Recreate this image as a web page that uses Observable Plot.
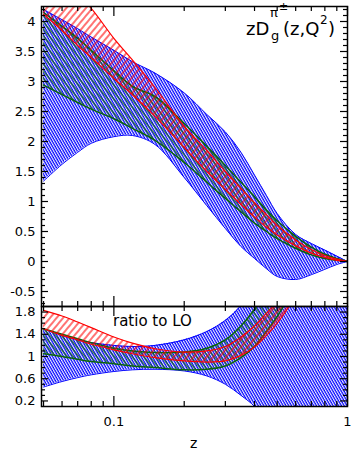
<!DOCTYPE html>
<html><head><meta charset="utf-8">
<script src="https://cdn.jsdelivr.net/npm/d3@7"></script>
<script src="https://cdn.jsdelivr.net/npm/@observablehq/plot@0.6"></script>
<style>
body{margin:0;background:#fff;font-family:"DejaVu Sans",sans-serif;}
#wrap{position:relative;width:352px;height:450px;overflow:hidden;}
#wrap svg{display:block;}
.t{position:absolute;line-height:1;white-space:nowrap;color:#000;}
</style></head><body>
<div id="wrap">
  <div id="topc"></div><div id="botc"></div>
  <span class="t" style="left:246px;top:20px;font-size:18px">zD</span>
  <span class="t" style="left:270px;top:6px;font-size:13px">π</span>
  <span class="t" style="left:279px;top:1px;font-size:11px">±</span>
  <span class="t" style="left:271px;top:29px;font-size:13px">g</span>
  <span class="t" style="left:283px;top:20px;font-size:18px">(z,Q</span>
  <span class="t" style="left:320px;top:14px;font-size:12px">2</span>
  <span class="t" style="left:328px;top:20px;font-size:18px">)</span>
  <span class="t" style="left:113px;top:314px;font-size:15px">ratio to LO</span>
  <span class="t" style="left:190px;top:436px;font-size:14px">z</span>
</div>
<script>
// ---- data ----
const z = [0.05,0.06,0.07,0.08,0.1,0.12,0.15,0.2,0.25,0.3,0.35,0.4,0.45,0.5,0.6,0.7,0.8,0.9,1.0];
// top panel: zD_g(z,Q^2)
const blueUpper  = [4.2,4.03,3.88,3.74,3.52,3.33,3.14,2.81,2.45,2.16,1.82,1.44,1.1,0.8,0.45,0.3,0.19,0.09,0];
const blueLower  = [1.34,1.62,1.82,1.97,2.08,2.1,1.95,1.4,0.93,0.55,0.25,0.05,-0.12,-0.25,-0.3,-0.22,-0.13,-0.05,0];
const greenUpper = [4.15,3.92,3.72,3.52,3.18,2.92,2.75,2.3,1.92,1.6,1.32,1.08,0.86,0.68,0.42,0.24,0.12,0.05,0];
const greenLower = [2.94,2.78,2.65,2.54,2.38,2.22,2.02,1.65,1.32,1.05,0.83,0.64,0.5,0.38,0.22,0.11,0.05,0.02,0];
const redUpper   = [5.05,4.75,4.45,4.22,3.72,3.36,2.9,2.25,1.85,1.5,1.22,0.98,0.78,0.6,0.36,0.2,0.1,0.04,0];
const redLower   = [4.12,3.85,3.6,3.4,3.05,2.78,2.42,1.9,1.5,1.2,0.95,0.74,0.57,0.44,0.26,0.14,0.07,0.02,0];
// bottom panel: ratio to LO
const rBlueUpper  = [1.5,1.38,1.3,1.25,1.2,1.18,1.2,1.3,1.45,1.65,1.92,2.3,2.8,3.5,5,5,5,5,5];
const rBlueLower  = [0.45,0.55,0.62,0.67,0.73,0.76,0.77,0.74,0.65,0.5,0.3,0.1,-0.2,-0.6,-2,-2,-2,-2,-2];
const rGreenUpper = [1.5,1.4,1.32,1.25,1.15,1.1,1.07,1.08,1.15,1.3,1.55,1.85,2.2,2.6,3.5,4,4,4,4];
const rGreenLower = [1.05,1.0,0.95,0.91,0.87,0.83,0.8,0.76,0.77,0.83,0.98,1.18,1.45,1.72,2.3,3,3,3,3];
const rRedUpper   = [1.83,1.73,1.62,1.52,1.35,1.24,1.14,1.08,1.1,1.18,1.35,1.55,1.78,2.0,2.6,3.2,3.2,3.2,3.2];
const rRedLower   = [1.5,1.38,1.3,1.22,1.12,1.05,0.98,0.92,0.9,0.92,1.02,1.17,1.38,1.6,2.1,2.8,2.8,2.8,2.8];
// ticks
const xMajor = [0.1, 1];
const xMinor = [0.05,0.06,0.07,0.08,0.09,0.2,0.3,0.4,0.5,0.6,0.7,0.8,0.9];
const yTopMajor = [-0.5,0,0.5,1,1.5,2,2.5,3,3.5,4];
const yTopMinor = [-0.7,-0.6,-0.4,-0.3,-0.2,-0.1,0.1,0.2,0.3,0.4,0.6,0.7,0.8,0.9,1.1,1.2,1.3,1.4,1.6,1.7,1.8,1.9,
  2.1,2.2,2.3,2.4,2.6,2.7,2.8,2.9,3.1,3.2,3.3,3.4,3.6,3.7,3.8,3.9,4.1,4.2];
const yBotMajor = [0.2,0.6,1,1.4,1.8];
const yBotMinor = [0.3,0.4,0.5,0.7,0.8,0.9,1.1,1.2,1.3,1.5,1.6,1.7];

const topRows = z.map((v,i)=>({z:v,bU:blueUpper[i],bL:blueLower[i],gU:greenUpper[i],gL:greenLower[i],rU:redUpper[i],rL:redLower[i]}));
const botRows = z.map((v,i)=>({z:v,bU:rBlueUpper[i],bL:rBlueLower[i],gU:rGreenUpper[i],gL:rGreenLower[i],rU:rRedUpper[i],rL:rRedLower[i]}));

const BLUE="#0000ff", GREEN="#0a640a", RED="#ff0000";
const curve="catmull-rom";
function bands(rows){
  return [
    Plot.areaY(rows,{x:"z",y1:"bL",y2:"bU",fill:"url(#hBlue)",curve,clip:true}),
    Plot.line(rows,{x:"z",y:"bU",stroke:BLUE,strokeWidth:1,curve,clip:true}),
    Plot.line(rows,{x:"z",y:"bL",stroke:BLUE,strokeWidth:1,curve,clip:true}),
    Plot.areaY(rows,{x:"z",y1:"gL",y2:"gU",fill:"url(#hGreen)",curve,clip:true}),
    Plot.line(rows,{x:"z",y:"gU",stroke:GREEN,strokeWidth:1.5,curve,clip:true}),
    Plot.line(rows,{x:"z",y:"gL",stroke:GREEN,strokeWidth:1.5,curve,clip:true}),
    Plot.areaY(rows,{x:"z",y1:"rL",y2:"rU",fill:"url(#hRed)",curve,clip:true}),
    Plot.line(rows,{x:"z",y:"rU",stroke:RED,strokeWidth:1.2,curve,clip:true}),
    Plot.line(rows,{x:"z",y:"rL",stroke:RED,strokeWidth:1.2,curve,clip:true})
  ];
}
// inward-pointing ticks on all four sides, drawn as tick marks inset from the frame
const FW=306; // frame width in px
function frameTicks(yMajor,yMinor,FH){
  const s={stroke:"#000",strokeWidth:1.2};
  return [
    Plot.frame({stroke:"black",strokeWidth:1.5}),
    Plot.tickY(yMajor,{y:d=>d,insetRight:FW-7,...s}),
    Plot.tickY(yMinor,{y:d=>d,insetRight:FW-4,...s}),
    Plot.tickY(yMajor,{y:d=>d,insetLeft:FW-7,...s}),
    Plot.tickY(yMinor,{y:d=>d,insetLeft:FW-4,...s}),
    Plot.tickX(xMajor,{x:d=>d,insetBottom:FH-10,...s}),
    Plot.tickX(xMinor,{x:d=>d,insetBottom:FH-5,...s}),
    Plot.tickX(xMajor,{x:d=>d,insetTop:FH-10,...s}),
    Plot.tickX(xMinor,{x:d=>d,insetTop:FH-5,...s})
  ];
}
const style={fontFamily:"DejaVu Sans",fontSize:"13px",color:"black",background:"transparent",overflow:"visible"};
const xScale={type:"log",domain:[0.049,1]};

const topPlot = Plot.plot({
  width:352,height:306,marginTop:6,marginBottom:0,marginLeft:41,marginRight:5,
  x:xScale, y:{domain:[-0.75,4.25]}, style,
  marks:[
    ...bands(topRows),
    Plot.axisY({anchor:"left",ticks:yTopMajor,tickSize:0,tickPadding:6,label:null,tickFormat:d=>String(d)}),
    Plot.axisX({anchor:"bottom",ticks:[],label:null}),
    ...frameTicks(yTopMajor,yTopMinor,300)
  ]
});
const botPlot = Plot.plot({
  width:352,height:144,marginTop:0,marginBottom:44,marginLeft:41,marginRight:5,
  x:xScale, y:{domain:[0.1,1.9]}, style,
  marks:[
    ...bands(botRows),
    Plot.axisY({anchor:"left",ticks:yBotMajor,tickSize:0,tickPadding:6,label:null,tickFormat:d=>String(d)}),
    Plot.axisX({anchor:"bottom",ticks:xMajor,tickSize:0,tickPadding:10,label:null,tickFormat:d=>String(d)}),
    ...frameTicks(yBotMajor,yBotMinor,100)
  ]
});
const ns="http://www.w3.org/2000/svg";
const defs=document.createElementNS(ns,"defs");
defs.innerHTML=`
<pattern id="hBlue" width="2.4" height="20" patternUnits="userSpaceOnUse" patternTransform="rotate(-30)">
  <line x1="1" y1="-2" x2="1" y2="22" stroke="${BLUE}" stroke-width="1.3"/></pattern>
<pattern id="hGreen" width="4.5" height="20" patternUnits="userSpaceOnUse" patternTransform="rotate(-40)">
  <line x1="1" y1="-2" x2="1" y2="22" stroke="${GREEN}" stroke-width="1.1"/></pattern>
<pattern id="hRed" width="5" height="20" patternUnits="userSpaceOnUse" patternTransform="rotate(40)">
  <line x1="1" y1="-2" x2="1" y2="22" stroke="${RED}" stroke-width="1.1"/></pattern>`;
topPlot.insertBefore(defs, topPlot.firstChild);
document.getElementById("topc").appendChild(topPlot);
document.getElementById("botc").appendChild(botPlot);
</script>
</body></html>
